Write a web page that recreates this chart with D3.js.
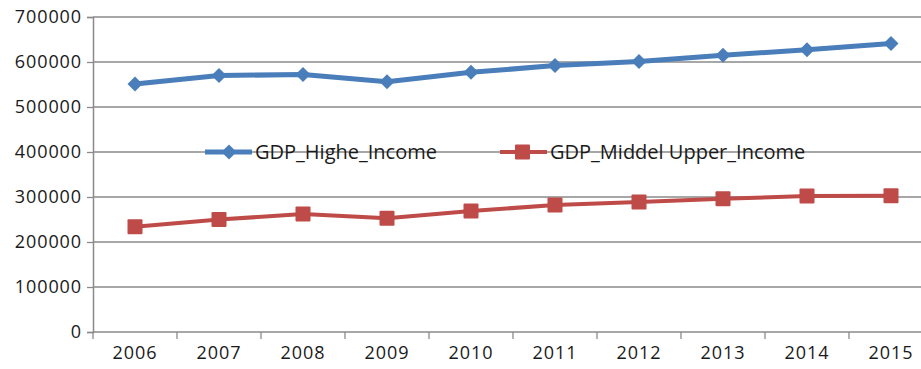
<!DOCTYPE html>
<html>
<head>
<meta charset="utf-8">
<script src="https://cdn.jsdelivr.net/npm/d3@7"></script>
<style>
    body { margin: 0; background: #fff; }
    svg text { font-family: "Open Sans", "Liberation Sans", sans-serif; fill: #1a1a1a; }
</style>
</head>
<body>
<div class="svg-container"></div>
<script>
// data
const years = ['2006', '2007', '2008', '2009', '2010', '2011', '2012', '2013', '2014', '2015'];
const gdpHigh = [551000, 570000, 572000, 556000, 577000, 592000, 601000, 615000, 627000, 641000];
const gdpMiddleUpper = [234000, 250000, 262000, 253000, 269000, 282000, 289000, 296000, 302000, 303000];
const yTicks = [0, 100000, 200000, 300000, 400000, 500000, 600000, 700000];
const seriesNames = ['GDP_Highe_Income', 'GDP_Middel Upper_Income'];

var width = 921, height = 369,
    margin = {top: 17, left: 93, bottom: 37},
    plotBottom = height - margin.bottom;

var svg = d3.select('.svg-container').append('svg')
    .attr('width', width)
    .attr('height', height);

// the category axis runs past the right edge (cropped in the original)
var xScale = d3.scaleBand().domain(years).range([margin.left, margin.left + 840]),
    yScale = d3.scaleLinear().domain([0, 700000]).range([plotBottom, margin.top]);

// gridlines
svg.append('g').selectAll('line')
    .data(yTicks).enter().append('line')
    .attr('x1', margin.left).attr('x2', width)
    .attr('y1', d => yScale(d)).attr('y2', d => yScale(d))
    .attr('stroke', '#8a8a8a').attr('stroke-width', 1.3);

// y axis
var yAxis = svg.append('g')
    .attr('transform', 'translate(' + margin.left + ',0)')
    .call(d3.axisLeft(yScale).tickValues(yTicks).tickFormat(d3.format('d')).tickSize(6).tickPadding(5));
yAxis.select('.domain').attr('stroke', '#8a8a8a').attr('stroke-width', 1.5);
yAxis.selectAll('.tick line').attr('stroke', '#8a8a8a').attr('stroke-width', 1.3);
yAxis.selectAll('text')
    .style('font-size', '18px').style('letter-spacing', '0.9px')
    .attr('fill', '#1a1a1a');

// x axis
var xAxis = svg.append('g')
    .attr('transform', 'translate(0,' + plotBottom + ')')
    .call(d3.axisBottom(xScale).tickSize(0).tickPadding(14));
xAxis.select('.domain').remove();
xAxis.selectAll('text')
    .style('font-size', '18px').style('letter-spacing', '0.9px')
    .attr('fill', '#1a1a1a');
// tick marks sit between the categories
svg.append('g').selectAll('line')
    .data(years).enter().append('line')
    .attr('x1', d => xScale(d)).attr('x2', d => xScale(d))
    .attr('y1', plotBottom).attr('y2', plotBottom + 7)
    .attr('stroke', '#8a8a8a').attr('stroke-width', 1.3);

var cx = d => xScale(d) + xScale.bandwidth() / 2;
var line = d3.line().x(d => cx(d[0])).y(d => yScale(d[1]));

var blue = '#4a7ebb', red = '#be4b48';
var highData = d3.zip(years, gdpHigh),
    midData = d3.zip(years, gdpMiddleUpper);
var diamond = 'M0,-7.5L7.5,0L0,7.5L-7.5,0Z';

// series 1: high income
svg.append('path').datum(highData)
    .attr('d', line).attr('fill', 'none')
    .attr('stroke', blue).attr('stroke-width', 5).attr('stroke-linejoin', 'round');
svg.append('g').selectAll('path')
    .data(highData).enter().append('path')
    .attr('d', diamond)
    .attr('transform', d => 'translate(' + cx(d[0]) + ',' + yScale(d[1]) + ')')
    .attr('fill', blue);

// series 2: middle upper income
svg.append('path').datum(midData)
    .attr('d', line).attr('fill', 'none')
    .attr('stroke', red).attr('stroke-width', 4).attr('stroke-linejoin', 'round');
svg.append('g').selectAll('rect')
    .data(midData).enter().append('rect')
    .attr('x', d => cx(d[0]) - 7.5).attr('y', d => yScale(d[1]) - 7.5)
    .attr('width', 15).attr('height', 15).attr('rx', 1)
    .attr('fill', red);

// legend, drawn on top of the 400000 gridline
var legendY = yScale(400000);
var legend = svg.append('g');
var items = [
    {name: seriesNames[0], color: blue, x: 205, marker: 'diamond'},
    {name: seriesNames[1], color: red, x: 500, marker: 'square'}
];
items.forEach(function (it) {
    legend.append('line')
        .attr('x1', it.x).attr('x2', it.x + 47)
        .attr('y1', legendY).attr('y2', legendY)
        .attr('stroke', it.color).attr('stroke-width', it.marker === 'diamond' ? 5 : 4);
    if (it.marker === 'diamond') {
        legend.append('path')
            .attr('d', diamond)
            .attr('transform', 'translate(' + (it.x + 24) + ',' + legendY + ')')
            .attr('fill', it.color);
    } else {
        legend.append('rect')
            .attr('x', it.x + 15).attr('y', legendY - 7.5)
            .attr('width', 15).attr('height', 15).attr('rx', 1)
            .attr('fill', it.color);
    }
    legend.append('text')
        .attr('x', it.x + 50).attr('y', legendY + 7)
        .style('font-size', '20px')
        .text(it.name);
});
</script>
</body>
</html>
